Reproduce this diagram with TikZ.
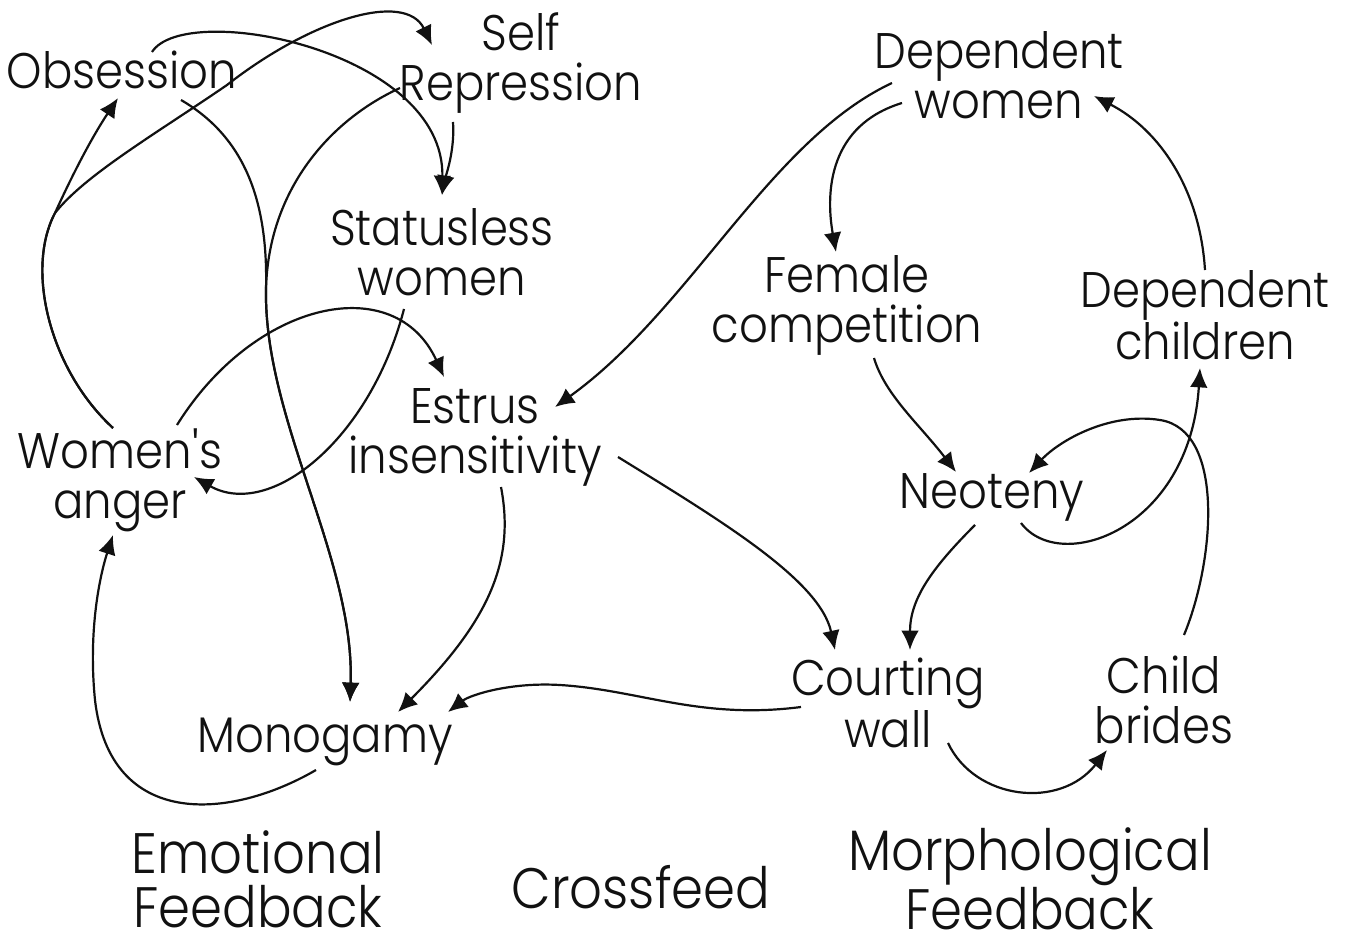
\documentclass[tikz,border=0pt]{standalone}
\usepackage{fontspec}
\setmainfont{Poppins}[UprightFont=* Light,FakeStretch=0.9]
\usepackage{xcolor}
\usepackage{tikz}
\usetikzlibrary{arrows.meta,positioning}
\definecolor{ink}{HTML}{111111}
\tikzset{
  termnode/.style={
    align=center,
    inner sep=0pt,
    text=ink,
    font=\fontsize{25}{25}\selectfont
  },
  groupnode/.style={
    align=center,
    inner sep=0pt,
    text=ink,
    font=\fontsize{28.5}{27}\selectfont
  },
  linkarrow/.style={-{Latex[length=3.4mm,width=3.1mm]},line width=1.1pt,draw=ink}
}
\begin{document}
\begin{tikzpicture}[x=0.5pt,y=-0.5pt]
  \useasboundingbox[fill=white] (0,0) rectangle (1351,947);
  \node[termnode] (obsession) at (122,70) {Obsession};
  \node[termnode] (selfrep) at (521,63) {Self\\Repression};
  \node[termnode] (statusless) at (442,252) {Statusless\\women};
  \node[termnode] (anger) at (120,480) {Women\textquotesingle s\\anger};
  \node[termnode] (estrus) at (475,437) {Estrus\\insensitivity};
  \node[termnode] (monogamy) at (325,742) {Monogamy};
  \node[termnode] (depwomen) at (999,75) {Dependent\\women};
  \node[termnode] (femcomp) at (847,305) {Female\\competition};
  \node[termnode] (depchild) at (1205,315) {Dependent\\children};
  \node[termnode] (neoteny) at (992,497) {Neoteny};
  \node[termnode] (courting) at (888,703) {Courting\\wall};
  \node[termnode] (brides) at (1164,700) {Child\\brides};
  \node[groupnode] (emotional) at (258,879) {Emotional\\Feedback};
  \node[groupnode] (crossfeed) at (641,887) {Crossfeed};
  \node[groupnode] (morpho) at (1030,879) {Morphological\\Feedback};
  \draw[linkarrow] ([shift={(-7,-52)}]anger.center) .. controls (50,370) and (25,270) .. (55,213)
    .. controls (70,180) and (90,140) .. ([shift={(-4,28)}]obsession.center);
  \draw[linkarrow] ([shift={(-7,-52)}]anger.center) .. controls (50,370) and (25,270) .. (55,213)
    .. controls (85,175) and (154,135) .. (227,85) .. controls (310,20) and (405,-10) .. ([shift={(-89,-18)}]selfrep.center);
  \draw[linkarrow] ([shift={(30,-18)}]obsession.center) .. controls (185,0) and (445,50) .. ([shift={(0,-57)}]statusless.center);
  \draw[linkarrow] ([shift={(-68,59)}]selfrep.center) .. controls (455,150) and (446,175) .. ([shift={(0,-57)}]statusless.center);
  \draw[linkarrow] ([shift={(59,30)}]obsession.center) .. controls (250,140) and (268,210) .. (266,290)
    .. controls (264,420) and (355,560) .. ([shift={(25,-40)}]monogamy.center);
  \draw[linkarrow] ([shift={(-121,25)}]selfrep.center) .. controls (330,120) and (268,190) .. (266,290)
    .. controls (264,420) and (355,560) .. ([shift={(25,-40)}]monogamy.center);
  \draw[linkarrow] ([shift={(57,-55)}]anger.center) .. controls (255,300) and (395,270) .. ([shift={(-31,-60)}]estrus.center);
  \draw[linkarrow] ([shift={(-38,57)}]statusless.center) .. controls (370,440) and (270,520) .. ([shift={(74,-3)}]anger.center);
  \draw[linkarrow] ([shift={(-9,28)}]monogamy.center) .. controls (230,820) and (110,830) .. (95,700)
    .. controls (88,630) and (100,575) .. ([shift={(-7,55)}]anger.center);
  \draw[linkarrow] ([shift={(26,50)}]estrus.center) .. controls (515,560) and (490,620) .. ([shift={(73,-30)}]monogamy.center);
  \draw[linkarrow] ([shift={(-87,4)}]courting.center) .. controls (700,720) and (640,690) .. (560,685)
    .. controls (510,682) and (470,695) .. ([shift={(123,-30)}]monogamy.center);
  \draw[linkarrow] ([shift={(-107,8)}]depwomen.center) .. controls (770,140) and (690,310) .. ([shift={(80,-30)}]estrus.center);
  \draw[linkarrow] ([shift={(-97,28)}]depwomen.center) .. controls (830,125) and (825,190) .. ([shift={(-11,-53)}]femcomp.center);
  \draw[linkarrow] ([shift={(27,53)}]femcomp.center) .. controls (885,395) and (920,425) .. ([shift={(-36,-25)}]neoteny.center);
  \draw[linkarrow] ([shift={(0,-45)}]depchild.center) .. controls (1200,190) and (1160,130) .. ([shift={(95,21)}]depwomen.center);
  \draw[linkarrow] ([shift={(20,-65)}]brides.center) .. controls (1215,560) and (1225,430) .. (1160,420)
    .. controls (1110,412) and (1060,440) .. ([shift={(37,-24)}]neoteny.center);
  \draw[linkarrow] ([shift={(29,26)}]neoteny.center) .. controls (1060,575) and (1190,530) .. ([shift={(-5,53)}]depchild.center);
  \draw[linkarrow] ([shift={(-17,28)}]neoteny.center) .. controls (930,570) and (910,600) .. ([shift={(22,-53)}]courting.center);
  \draw[linkarrow] ([shift={(143,20)}]estrus.center) .. controls (720,520) and (820,580) .. ([shift={(-53,-53)}]courting.center);
  \draw[linkarrow] ([shift={(60,40)}]courting.center) .. controls (975,800) and (1060,810) .. ([shift={(-57,50)}]brides.center);
\end{tikzpicture}
\end{document}
